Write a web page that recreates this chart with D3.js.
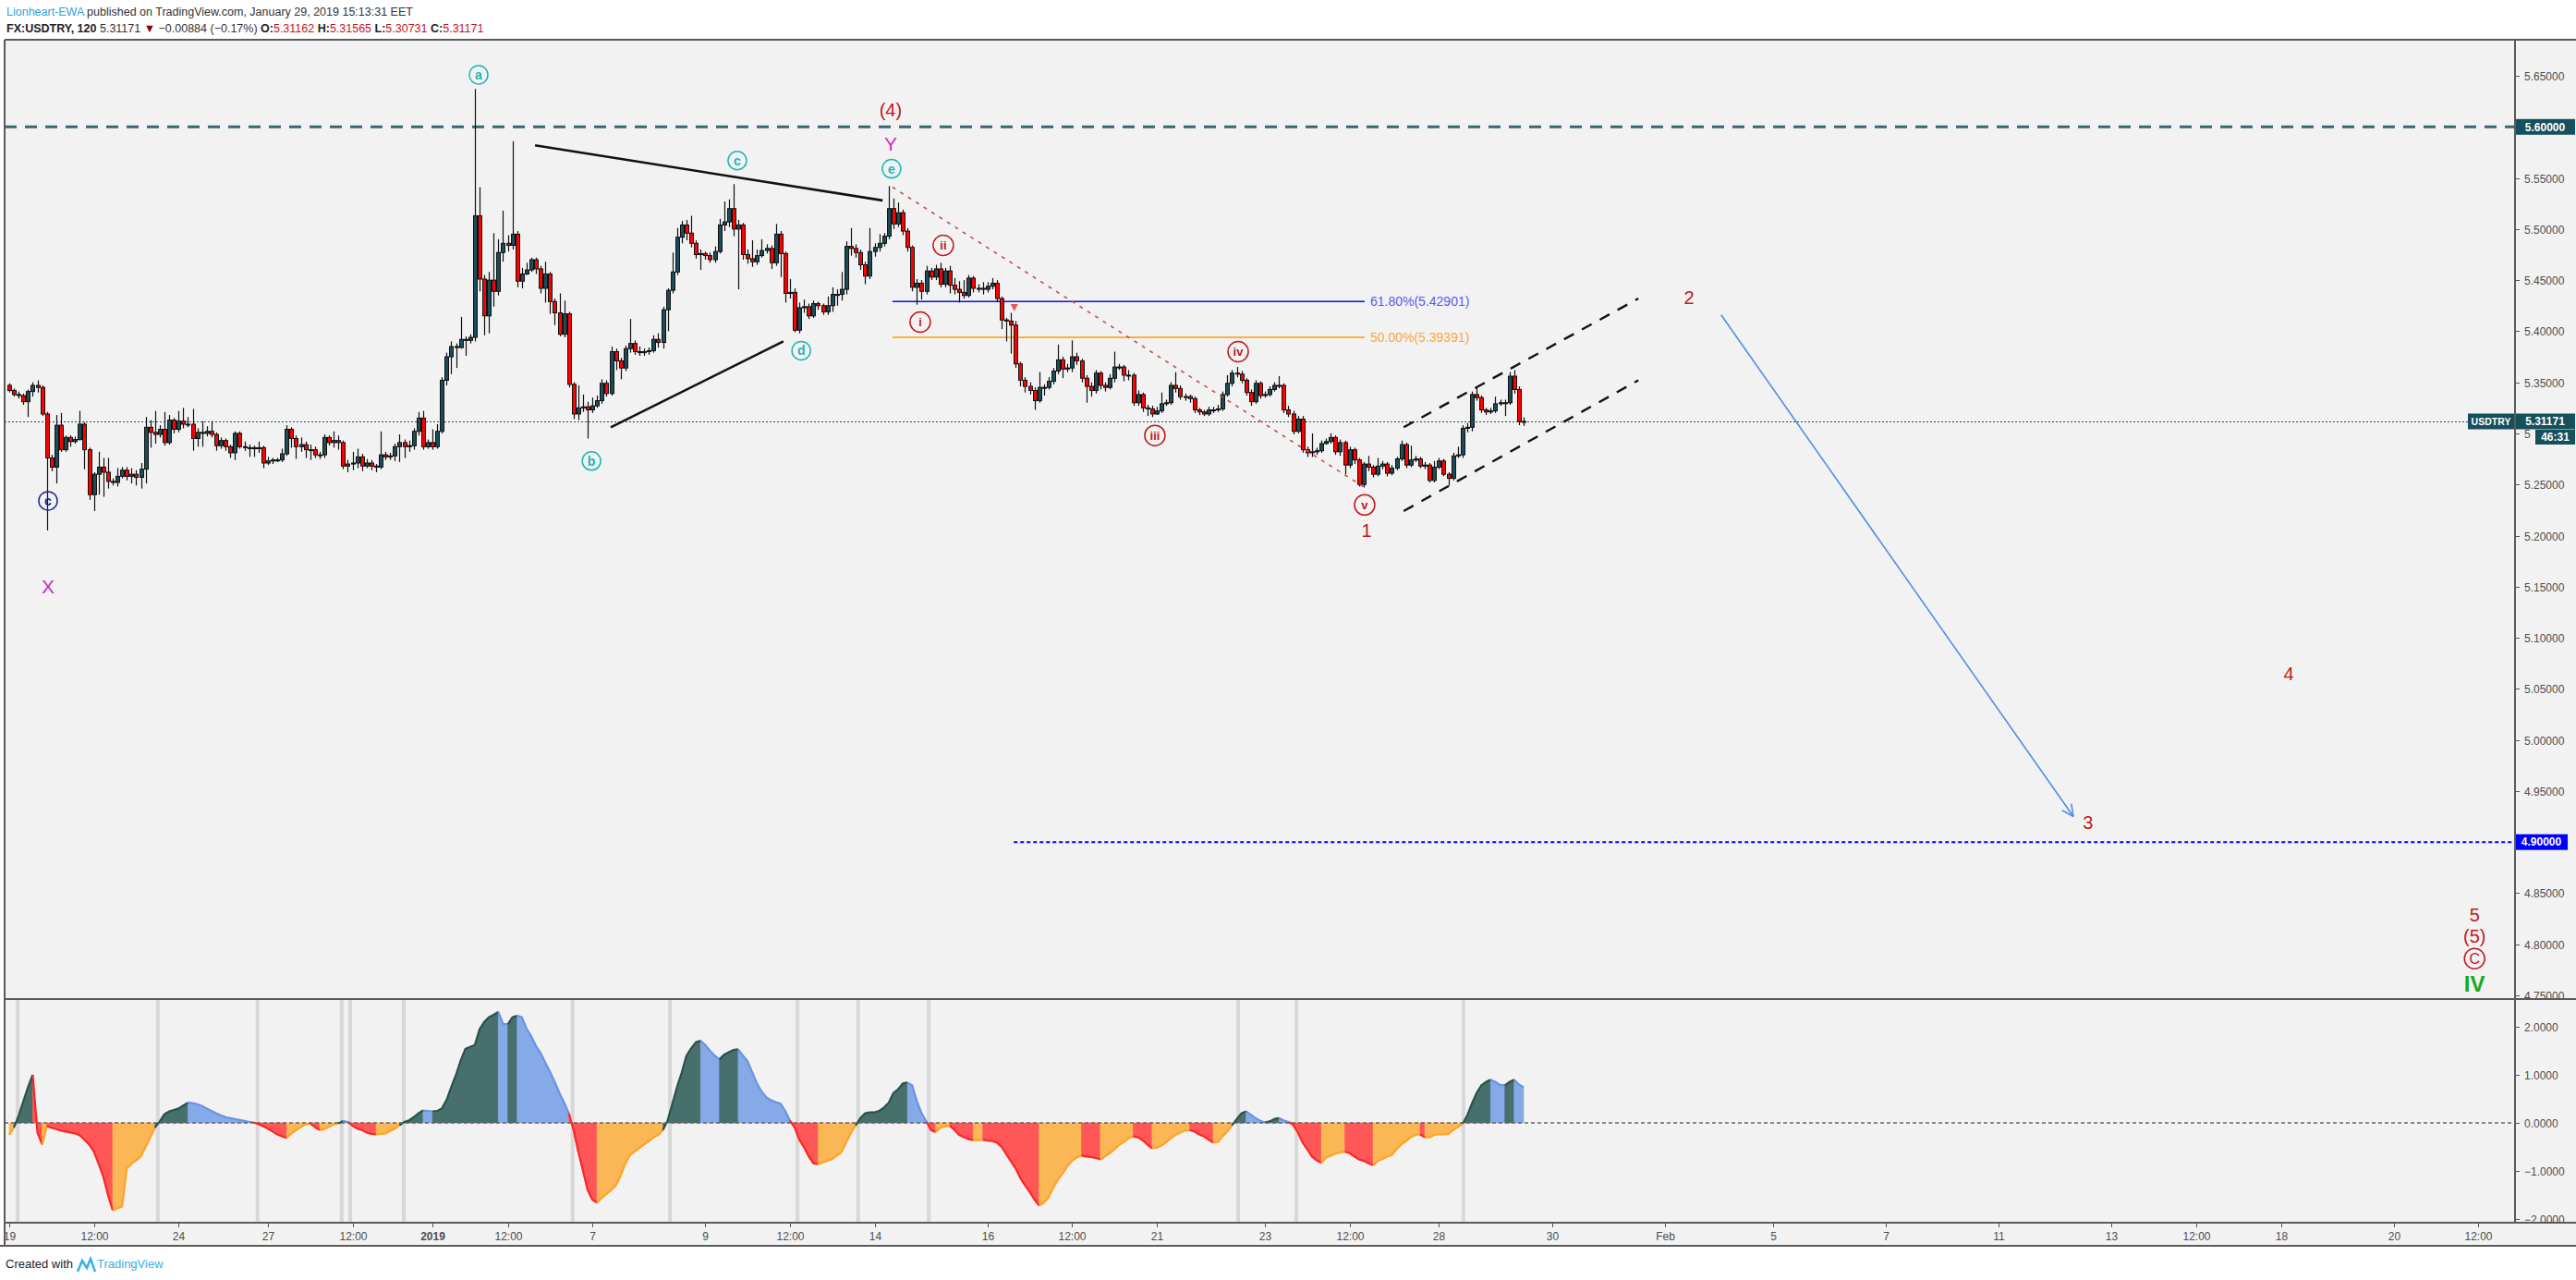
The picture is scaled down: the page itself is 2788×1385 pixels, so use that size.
<!DOCTYPE html>
<html>
<head>
<meta charset="utf-8">
<script src="https://cdn.jsdelivr.net/npm/d3@7"></script>
<style>
  body { margin: 0; background: #fff; }
  svg text { font-family: "Liberation Sans", Arial, sans-serif; }
</style>
</head>
<body>
<svg id="chart" width="2788" height="1385"></svg>
<script>
// FX:USDTRY 2h candles, Dec 19 2018 .. Jan 29 2019 (open of first bar, then closes/highs/lows per bar)
var firstOpen = 5.347;
var closes = [
  5.342,5.338,5.337,5.331,5.341,5.347,5.345,5.319,5.276,5.267,
  5.308,5.284,5.296,5.292,5.294,5.309,5.284,5.240,5.260,5.267,
  5.262,5.253,5.252,5.258,5.264,5.258,5.260,5.257,5.265,5.306,
  5.301,5.299,5.304,5.291,5.313,5.304,5.312,5.309,5.309,5.295,
  5.301,5.300,5.302,5.299,5.288,5.293,5.287,5.281,5.300,5.287,
  5.286,5.286,5.285,5.286,5.271,5.273,5.274,5.274,5.280,5.304,
  5.295,5.287,5.289,5.284,5.284,5.279,5.279,5.296,5.291,5.293,
  5.291,5.268,5.270,5.271,5.277,5.268,5.271,5.268,5.267,5.279,
  5.277,5.278,5.287,5.291,5.287,5.288,5.302,5.315,5.287,5.291,
  5.287,5.302,5.352,5.375,5.385,5.384,5.392,5.391,5.394,5.513,
  5.451,5.415,5.450,5.439,5.477,5.486,5.484,5.495,5.449,5.456,
  5.460,5.470,5.461,5.442,5.456,5.429,5.418,5.397,5.417,5.348,
  5.319,5.325,5.326,5.323,5.327,5.332,5.349,5.339,5.380,5.371,
  5.364,5.383,5.388,5.380,5.379,5.380,5.381,5.392,5.389,5.421,
  5.440,5.458,5.492,5.504,5.496,5.486,5.475,5.476,5.474,5.470,
  5.478,5.504,5.507,5.520,5.500,5.504,5.475,5.471,5.468,5.474,
  5.479,5.481,5.467,5.495,5.476,5.437,5.438,5.401,5.423,5.424,
  5.415,5.427,5.425,5.419,5.425,5.436,5.436,5.441,5.483,5.481,
  5.477,5.465,5.454,5.478,5.482,5.486,5.493,5.520,5.505,5.516,
  5.498,5.482,5.443,5.447,5.439,5.459,5.453,5.461,5.446,5.459,
  5.445,5.441,5.438,5.435,5.452,5.442,5.442,5.441,5.444,5.447,
  5.432,5.411,5.410,5.406,5.368,5.352,5.346,5.342,5.332,5.345,
  5.345,5.351,5.361,5.372,5.363,5.364,5.375,5.371,5.354,5.346,
  5.342,5.359,5.347,5.345,5.354,5.365,5.365,5.357,5.357,5.330,
  5.338,5.325,5.324,5.319,5.322,5.329,5.330,5.347,5.344,5.336,
  5.336,5.334,5.323,5.321,5.319,5.323,5.323,5.324,5.338,5.349,
  5.359,5.358,5.352,5.340,5.331,5.349,5.337,5.338,5.343,5.347,
  5.347,5.323,5.319,5.302,5.314,5.284,5.281,5.282,5.283,5.290,
  5.292,5.296,5.282,5.291,5.269,5.284,5.274,5.250,5.270,5.267,
  5.260,5.268,5.270,5.261,5.266,5.275,5.289,5.269,5.274,5.275,
  5.268,5.269,5.254,5.267,5.273,5.260,5.256,5.278,5.279,5.305,
  5.306,5.338,5.335,5.323,5.321,5.322,5.329,5.330,5.330,5.356,
  5.343,5.3116,5.31171
];
var highs = [
  5.349,5.344,5.341,5.339,5.343,5.350,5.352,5.347,5.321,5.279,
  5.318,5.320,5.298,5.298,5.297,5.322,5.311,5.286,5.262,5.282,
  5.276,5.276,5.256,5.266,5.267,5.267,5.266,5.264,5.271,5.316,
  5.313,5.322,5.308,5.321,5.318,5.315,5.322,5.325,5.316,5.324,
  5.305,5.312,5.307,5.312,5.301,5.296,5.295,5.289,5.302,5.302,
  5.292,5.289,5.288,5.292,5.288,5.277,5.276,5.276,5.285,5.308,
  5.306,5.298,5.296,5.292,5.289,5.287,5.282,5.299,5.298,5.302,
  5.298,5.293,5.274,5.282,5.285,5.280,5.275,5.274,5.270,5.302,
  5.282,5.281,5.290,5.299,5.294,5.293,5.305,5.321,5.322,5.294,
  5.304,5.309,5.355,5.379,5.390,5.388,5.414,5.395,5.397,5.637,
  5.541,5.455,5.458,5.496,5.490,5.518,5.494,5.586,5.498,5.462,
  5.467,5.472,5.472,5.464,5.468,5.458,5.432,5.437,5.430,5.419,
  5.350,5.347,5.338,5.331,5.335,5.337,5.353,5.352,5.385,5.383,
  5.374,5.386,5.412,5.391,5.385,5.383,5.384,5.396,5.398,5.424,
  5.442,5.477,5.501,5.508,5.509,5.513,5.489,5.480,5.478,5.477,
  5.483,5.510,5.527,5.529,5.544,5.509,5.506,5.480,5.489,5.480,
  5.490,5.485,5.484,5.505,5.498,5.478,5.451,5.442,5.428,5.431,
  5.427,5.430,5.429,5.427,5.434,5.443,5.441,5.458,5.488,5.501,
  5.485,5.480,5.468,5.501,5.486,5.495,5.496,5.542,5.530,5.526,
  5.519,5.501,5.484,5.451,5.450,5.464,5.462,5.465,5.467,5.462,
  5.464,5.452,5.449,5.450,5.455,5.454,5.446,5.448,5.448,5.452,
  5.450,5.434,5.413,5.418,5.410,5.370,5.355,5.350,5.345,5.360,
  5.348,5.355,5.364,5.387,5.375,5.368,5.391,5.379,5.373,5.357,
  5.350,5.362,5.361,5.350,5.358,5.380,5.368,5.367,5.362,5.359,
  5.342,5.340,5.328,5.327,5.326,5.340,5.333,5.350,5.360,5.347,
  5.339,5.338,5.336,5.325,5.323,5.326,5.326,5.328,5.341,5.357,
  5.362,5.365,5.361,5.354,5.343,5.352,5.351,5.341,5.346,5.350,
  5.356,5.349,5.327,5.322,5.317,5.317,5.287,5.300,5.286,5.293,
  5.295,5.300,5.298,5.294,5.293,5.287,5.286,5.276,5.272,5.278,
  5.269,5.276,5.273,5.272,5.269,5.277,5.293,5.291,5.288,5.278,
  5.277,5.272,5.271,5.273,5.276,5.275,5.262,5.281,5.287,5.308,
  5.310,5.341,5.345,5.337,5.325,5.325,5.336,5.333,5.333,5.360,
  5.362,5.346,5.31565
];
var lows = [
  5.340,5.336,5.334,5.328,5.316,5.336,5.340,5.317,5.205,5.263,
  5.251,5.282,5.282,5.287,5.290,5.293,5.265,5.235,5.224,5.240,
  5.238,5.246,5.249,5.248,5.256,5.254,5.251,5.249,5.246,5.251,
  5.286,5.290,5.296,5.288,5.289,5.300,5.301,5.305,5.306,5.283,
  5.287,5.287,5.297,5.296,5.283,5.285,5.283,5.276,5.274,5.285,
  5.283,5.277,5.277,5.281,5.266,5.269,5.270,5.272,5.272,5.278,
  5.286,5.275,5.282,5.276,5.274,5.276,5.275,5.276,5.288,5.286,
  5.284,5.265,5.262,5.264,5.266,5.263,5.266,5.264,5.262,5.265,
  5.274,5.274,5.273,5.272,5.276,5.282,5.284,5.298,5.284,5.285,
  5.284,5.285,5.300,5.347,5.358,5.364,5.383,5.376,5.388,5.390,
  5.439,5.396,5.398,5.424,5.435,5.468,5.478,5.480,5.443,5.442,
  5.455,5.458,5.456,5.437,5.428,5.417,5.406,5.395,5.394,5.345,
  5.314,5.313,5.321,5.295,5.320,5.325,5.329,5.336,5.337,5.362,
  5.353,5.361,5.379,5.377,5.376,5.376,5.377,5.379,5.384,5.383,
  5.400,5.437,5.455,5.486,5.489,5.482,5.471,5.460,5.470,5.467,
  5.467,5.476,5.498,5.502,5.493,5.441,5.470,5.466,5.463,5.465,
  5.472,5.476,5.461,5.464,5.453,5.428,5.432,5.399,5.398,5.418,
  5.412,5.413,5.421,5.416,5.416,5.419,5.425,5.430,5.436,5.474,
  5.472,5.460,5.446,5.451,5.473,5.478,5.483,5.490,5.500,5.502,
  5.494,5.478,5.439,5.426,5.431,5.436,5.450,5.450,5.443,5.443,
  5.437,5.436,5.428,5.432,5.433,5.438,5.438,5.436,5.438,5.441,
  5.429,5.402,5.390,5.378,5.364,5.346,5.340,5.338,5.323,5.330,
  5.337,5.343,5.348,5.358,5.354,5.360,5.360,5.367,5.350,5.330,
  5.336,5.339,5.343,5.341,5.343,5.350,5.362,5.351,5.352,5.327,
  5.327,5.321,5.317,5.316,5.318,5.320,5.327,5.328,5.340,5.333,
  5.332,5.330,5.320,5.318,5.317,5.317,5.320,5.321,5.322,5.336,
  5.346,5.355,5.349,5.337,5.327,5.329,5.334,5.335,5.336,5.341,
  5.344,5.320,5.316,5.299,5.300,5.281,5.277,5.277,5.279,5.281,
  5.289,5.290,5.279,5.278,5.260,5.266,5.270,5.248,5.247,5.263,
  5.257,5.258,5.265,5.258,5.259,5.264,5.273,5.266,5.267,5.272,
  5.266,5.265,5.252,5.252,5.265,5.258,5.249,5.254,5.276,5.276,
  5.301,5.302,5.332,5.320,5.318,5.319,5.320,5.327,5.317,5.328,
  5.339,5.308,5.30731
];

// oscillator pane, one value per candle
var osc = [
  -0.25,-0.10,0.15,0.45,0.75,1.00,-0.20,-0.45,-0.07,-0.10,
  -0.13,-0.16,-0.18,-0.20,-0.22,-0.26,-0.35,-0.45,-0.60,-0.85,
  -1.12,-1.50,-1.82,-1.78,-1.74,-0.95,-0.85,-0.78,-0.70,-0.50,
  -0.30,-0.10,0.03,0.18,0.24,0.27,0.30,0.36,0.42,0.41,
  0.39,0.35,0.30,0.25,0.20,0.16,0.12,0.10,0.08,0.06,
  0.04,0.02,0.01,-0.03,-0.07,-0.12,-0.18,-0.24,-0.28,-0.31,
  -0.22,-0.15,-0.09,-0.03,-0.01,-0.09,-0.15,-0.13,-0.08,-0.03,
  -0.01,0.04,0.02,-0.06,-0.12,-0.15,-0.20,-0.23,-0.24,-0.23,
  -0.22,-0.17,-0.12,-0.05,0.02,0.05,0.12,0.20,0.26,0.25,
  0.24,0.25,0.30,0.48,0.75,1.00,1.30,1.54,1.58,1.62,
  1.95,2.10,2.20,2.25,2.31,2.06,2.05,2.20,2.23,2.20,
  1.96,1.80,1.60,1.45,1.25,1.06,0.85,0.62,0.42,0.20,
  -0.15,-0.60,-1.00,-1.40,-1.60,-1.66,-1.56,-1.48,-1.40,-1.30,
  -1.10,-0.85,-0.67,-0.60,-0.52,-0.45,-0.38,-0.30,-0.25,-0.15,
  0.05,0.40,0.75,1.05,1.40,1.55,1.68,1.71,1.62,1.50,
  1.40,1.32,1.42,1.47,1.52,1.53,1.40,1.28,1.05,0.82,
  0.65,0.53,0.47,0.43,0.40,0.25,0.05,-0.10,-0.35,-0.51,
  -0.70,-0.84,-0.86,-0.82,-0.79,-0.75,-0.68,-0.60,-0.40,-0.20,
  -0.05,0.10,0.20,0.22,0.22,0.25,0.32,0.42,0.62,0.70,
  0.82,0.84,0.78,0.45,0.20,0.03,-0.15,-0.19,-0.10,-0.07,
  -0.06,-0.15,-0.25,-0.30,-0.34,-0.36,-0.36,-0.35,-0.37,-0.38,
  -0.41,-0.50,-0.65,-0.80,-0.95,-1.15,-1.30,-1.44,-1.60,-1.72,
  -1.66,-1.55,-1.35,-1.18,-1.05,-0.90,-0.79,-0.72,-0.68,-0.70,
  -0.71,-0.73,-0.76,-0.70,-0.63,-0.55,-0.46,-0.40,-0.32,-0.28,
  -0.30,-0.36,-0.45,-0.53,-0.52,-0.47,-0.40,-0.32,-0.25,-0.20,
  -0.16,-0.15,-0.18,-0.24,-0.28,-0.35,-0.41,-0.40,-0.28,-0.18,
  -0.05,0.08,0.20,0.24,0.17,0.10,0.04,0.01,0.03,0.08,
  0.10,0.05,0.02,-0.04,-0.20,-0.41,-0.55,-0.70,-0.78,-0.83,
  -0.72,-0.68,-0.64,-0.62,-0.60,-0.63,-0.70,-0.76,-0.79,-0.84,
  -0.88,-0.79,-0.75,-0.70,-0.67,-0.55,-0.45,-0.38,-0.30,-0.25,
  -0.24,-0.30,-0.30,-0.25,-0.24,-0.24,-0.23,-0.15,-0.09,-0.02,
  0.15,0.40,0.62,0.78,0.85,0.90,0.85,0.79,0.78,0.85,
  0.90,0.80,0.74
];
var oscCrossBars = [1.8, 31.6, 52.8, 70.7, 72.5, 83.9, 119.8, 140.5, 167.6, 180.5, 195.5, 261.3, 273.7, 309.2];

var priceTicks = [5.65, 5.60, 5.55, 5.50, 5.45, 5.40, 5.35, 5.30, 5.25, 5.20, 5.15, 5.10, 5.05, 5.00, 4.95, 4.90, 4.85, 4.80, 4.75];
var oscTicks = [2, 1, 0, -1, -2];
var timeTickBars = [0, 18, 36, 55, 73, 90, 106, 124, 148, 166, 184, 208, 226, 244, 267, 285, 304, 328, 352, 375, 399, 423, 447, 465, 483, 507, 525];
var timeTickLabels = ['19', '12:00', '24', '27', '12:00', '2019', '12:00', '7', '9', '12:00', '14', '16', '12:00', '21', '23', '12:00', '28', '30', 'Feb', '5', '7', '11', '13', '12:00', '18', '20', '12:00'];

var lastPrice = 5.31171;
var countdown = '46:31';
var resistanceLevel = 5.60;
var targetLevel = 4.90;
var targetFromBar = 213.6;
var fibPrices = [5.42901, 5.39391];
var fibRatios = ['61.80%', '50.00%'];
var fibBars = [187.8, 288.2];

var waveLabels = [
    {bar: 99.8, price: 5.651, text: 'a', kind: 'minute'},
    {bar: 123.8, price: 5.273, text: 'b', kind: 'minute'},
    {bar: 154.8, price: 5.567, text: 'c', kind: 'minute'},
    {bar: 168.4, price: 5.381, text: 'd', kind: 'minute'},
    {bar: 187.6, price: 5.559, text: 'e', kind: 'minute'},
    {bar: 187.4, price: 5.584, text: 'Y', kind: 'complex'},
    {bar: 187.4, price: 5.617, text: '(4)', kind: 'intermediate'},
    {bar: 8.25, price: 5.234, text: 'c', kind: 'minor-circle'},
    {bar: 8.25, price: 5.150, text: 'X', kind: 'complex'},
    {bar: 193.7, price: 5.409, text: 'i', kind: 'minuette'},
    {bar: 198.6, price: 5.484, text: 'ii', kind: 'minuette'},
    {bar: 243.6, price: 5.298, text: 'iii', kind: 'minuette'},
    {bar: 261.3, price: 5.380, text: 'iv', kind: 'minuette'},
    {bar: 288.2, price: 5.230, text: 'v', kind: 'minuette'},
    {bar: 288.6, price: 5.205, text: '1', kind: 'minor'},
    {bar: 357.2, price: 5.433, text: '2', kind: 'minor'},
    {bar: 442.0, price: 4.919, text: '3', kind: 'minor'},
    {bar: 484.7, price: 5.065, text: '4', kind: 'minor'},
    {bar: 524.2, price: 4.829, text: '5', kind: 'minor'},
    {bar: 524.2, price: 4.808, text: '(5)', kind: 'intermediate'},
    {bar: 524.2, price: 4.786, text: 'C', kind: 'primary'},
    {bar: 524.2, price: 4.761, text: 'IV', kind: 'cycle'},
];

var trendLines = [
    {from: [111.8, 5.582], to: [185.7, 5.528], kind: 'triangle'},
    {from: [127.9, 5.306], to: [164.6, 5.390], kind: 'triangle'},
    {from: [187.8, 5.541], to: [288.2, 5.247], kind: 'trend'},
    {from: [296.5, 5.306], to: [346.4, 5.432], kind: 'channel'},
    {from: [296.5, 5.224], to: [346.4, 5.352], kind: 'channel'},
    {from: [364.0, 5.416], to: [438.9, 4.925], kind: 'arrow'},
];
var signalMark = {bar: 213.7, price: 5.423};

var labelStyles = {
    'minute': {color: '#1db5b8', circle: 10, size: 14, weight: 'bold'},
    'minor-circle': {color: '#1c2a8c', circle: 10, size: 14, weight: 'bold'},
    'minuette': {color: '#c0191e', circle: 11, size: 13, weight: 'bold'},
    'primary': {color: '#c0191e', circle: 11, size: 16, weight: 'normal'},
    'complex': {color: '#c22fc4', size: 21, weight: 'normal'},
    'intermediate': {color: '#c0191e', size: 20, weight: 'normal'},
    'minor': {color: '#c0191e', size: 20, weight: 'normal'},
    'cycle': {color: '#18a818', size: 24, weight: 'bold'},
};
var lineStyles = {
    'triangle': {stroke: '#111', width: 2.6, dash: null},
    'trend': {stroke: '#c0504d', width: 1.6, dash: '4,6'},
    'channel': {stroke: '#111', width: 2.4, dash: '12,10'},
    'arrow': {stroke: '#4f8fe6', width: 1.6, dash: null},
};
var oscColors = {
    up: {fill: '#476f6b', line: '#2b524e'},
    fade: {fill: '#86a9e8', line: '#6a93e2'},
    down: {fill: '#ff5757', line: '#ff2525'},
    recover: {fill: '#fbb655', line: '#ffa425'},
};

class Chart {

    constructor() {
        this.svg = d3.select('#chart');
        this.frame = {left: 5, right: 2722, top: 43, bottom: 1081, oscBottom: 1323, axisBottom: 1348, width: 2788};
        this.x = d3.scaleLinear().domain([0, 322]).range([10, 1649]);
        this.y = d3.scaleLinear().domain([5.65, 4.75]).range([82, 1077]);
        this.yo = d3.scaleLinear().domain([2, -2]).range([1111, 1319]);
        this.fmt = d3.format('.5f');
        this.candles = closes.map((c, i) => ({
            i: i,
            open: i ? closes[i - 1] : firstOpen,
            close: c,
            high: highs[i],
            low: lows[i],
        }));
    }

    draw() {
        this.drawBackground();
        this.drawLevels();
        this.drawCandles();
        this.drawDrawings();
        this.drawLabels();
        this.drawOscillator();
        this.drawAxes();
        this.drawFrame();
        this.drawHeader();
    }

    drawBackground() {
        var f = this.frame;
        this.svg.append('rect').attr('width', 2788).attr('height', 1385).attr('fill', '#fff');
        this.svg.append('rect')
            .attr('x', f.left).attr('y', f.top)
            .attr('width', f.width - f.left).attr('height', f.axisBottom - f.top)
            .attr('fill', '#f2f2f2');
        var defs = this.svg.append('defs');
        defs.append('clipPath').attr('id', 'main-clip').append('rect')
            .attr('x', f.left).attr('y', f.top).attr('width', f.right - f.left).attr('height', f.bottom - f.top);
        defs.append('clipPath').attr('id', 'osc-clip').append('rect')
            .attr('x', f.left).attr('y', f.bottom + 1).attr('width', f.right - f.left).attr('height', f.oscBottom - f.bottom - 1);
        this.main = this.svg.append('g').attr('clip-path', 'url(#main-clip)');
    }

    drawLevels() {
        var f = this.frame;
        var g = this.main;
        g.append('line')
            .attr('x1', f.left).attr('x2', f.right)
            .attr('y1', this.y(resistanceLevel)).attr('y2', this.y(resistanceLevel))
            .attr('stroke', '#3a6670').attr('stroke-width', 3).attr('stroke-dasharray', '13,9');
        g.append('line')
            .attr('x1', this.x(targetFromBar)).attr('x2', f.right)
            .attr('y1', this.y(targetLevel)).attr('y2', this.y(targetLevel))
            .attr('stroke', '#0000ff').attr('stroke-width', 2).attr('stroke-dasharray', '4,3');
        g.append('line')
            .attr('x1', f.left).attr('x2', 2672)
            .attr('y1', Math.round(this.y(lastPrice)) + 0.5).attr('y2', Math.round(this.y(lastPrice)) + 0.5)
            .attr('stroke', '#1b4d5a').attr('stroke-width', 1).attr('stroke-dasharray', '2,2');

        var fibColors = ['#0a0af0', '#ff9a0a'];
        var fibText = ['#5a5af2', '#ffa63a'];
        fibPrices.forEach((p, k) => {
            g.append('line')
                .attr('x1', this.x(fibBars[0])).attr('x2', this.x(fibBars[1]))
                .attr('y1', this.y(p)).attr('y2', this.y(p))
                .attr('stroke', fibColors[k]).attr('stroke-width', 1.5);
            g.append('text')
                .attr('x', this.x(fibBars[1]) + 6).attr('y', this.y(p))
                .attr('dy', '0.35em')
                .attr('font-size', 14)
                .attr('fill', fibText[k])
                .text(`${fibRatios[k]}(${this.fmt(p)})`);
        });
    }

    drawCandles() {
        var g = this.main.append('g');
        g.selectAll('line.wick')
            .data(this.candles)
            .join('line')
            .attr('class', 'wick')
            .attr('x1', d => Math.round(this.x(d.i)) + 0.5)
            .attr('x2', d => Math.round(this.x(d.i)) + 0.5)
            .attr('y1', d => this.y(Math.max(d.high, d.open, d.close)))
            .attr('y2', d => this.y(Math.min(d.low, d.open, d.close)))
            .attr('stroke', '#111')
            .attr('stroke-width', 1.2);
        g.selectAll('rect.body')
            .data(this.candles)
            .join('rect')
            .attr('class', 'body')
            .attr('x', d => Math.round(this.x(d.i)) - 1.5)
            .attr('width', 4)
            .attr('y', d => this.y(Math.max(d.open, d.close)))
            .attr('height', d => Math.max(1, this.y(Math.min(d.open, d.close)) - this.y(Math.max(d.open, d.close))))
            .attr('fill', d => d.close >= d.open ? '#1b4c58' : '#ff0000')
            .attr('stroke', '#111')
            .attr('stroke-width', 1);
    }

    drawDrawings() {
        var g = this.main.append('g');
        trendLines.forEach(t => {
            var s = lineStyles[t.kind];
            var x1 = this.x(t.from[0]), y1 = this.y(t.from[1]);
            var x2 = this.x(t.to[0]), y2 = this.y(t.to[1]);
            g.append('line')
                .attr('x1', x1).attr('y1', y1).attr('x2', x2).attr('y2', y2)
                .attr('stroke', s.stroke).attr('stroke-width', s.width)
                .attr('stroke-dasharray', s.dash);
            if (t.kind === 'arrow') {
                var a = Math.atan2(y2 - y1, x2 - x1);
                [-0.45, 0.45].forEach(da => {
                    g.append('line')
                        .attr('x1', x2).attr('y1', y2)
                        .attr('x2', x2 - 14 * Math.cos(a + da)).attr('y2', y2 - 14 * Math.sin(a + da))
                        .attr('stroke', s.stroke).attr('stroke-width', s.width);
                });
            }
        });
        var sx = this.x(signalMark.bar), sy = this.y(signalMark.price);
        g.append('path')
            .attr('d', `M${sx - 4},${sy - 4}L${sx + 4},${sy - 4}L${sx},${sy + 4}Z`)
            .attr('fill', '#e25a5a');
    }

    drawLabels() {
        var g = this.main.append('g');
        var items = g.selectAll('g.wave')
            .data(waveLabels)
            .join('g')
            .attr('class', 'wave')
            .attr('transform', d => `translate(${this.x(d.bar)},${this.y(d.price)})`);
        items.filter(d => labelStyles[d.kind].circle)
            .append('circle')
            .attr('r', d => labelStyles[d.kind].circle)
            .attr('fill', 'none')
            .attr('stroke', d => labelStyles[d.kind].color)
            .attr('stroke-width', 1.5);
        items.append('text')
            .attr('text-anchor', 'middle')
            .attr('dy', '0.36em')
            .attr('font-size', d => labelStyles[d.kind].size)
            .attr('font-weight', d => labelStyles[d.kind].weight)
            .attr('fill', d => labelStyles[d.kind].color)
            .text(d => d.text);
    }

    oscColor(v, prev) {
        if (v >= 0) {
            return v >= prev ? 'up' : 'fade';
        }
        return v < prev ? 'down' : 'recover';
    }

    drawOscillator() {
        var g = this.svg.append('g').attr('clip-path', 'url(#osc-clip)');
        var f = this.frame;
        g.selectAll('rect.cross')
            .data(oscCrossBars)
            .join('rect')
            .attr('class', 'cross')
            .attr('x', d => this.x(d) - 2)
            .attr('width', 4)
            .attr('y', f.bottom + 1)
            .attr('height', f.oscBottom - f.bottom - 1)
            .attr('fill', '#d8d8d8');

        var pts = osc.map((v, i) => ({i: i, v: v, c: this.oscColor(v, i ? osc[i - 1] : v)}));
        var runs = [];
        pts.forEach(p => {
            var last = runs[runs.length - 1];
            if (last && last.c === p.c) {
                last.pts.push(p);
            } else {
                runs.push({c: p.c, pts: p.i ? [pts[p.i - 1], p] : [p]});
            }
        });
        var area = d3.area()
            .x(d => this.x(d.i))
            .y0(this.yo(0))
            .y1(d => this.yo(d.v));
        var line = d3.line()
            .x(d => this.x(d.i))
            .y(d => this.yo(d.v));
        g.selectAll('path.fill')
            .data(runs)
            .join('path')
            .attr('class', 'fill')
            .attr('d', d => area(d.pts))
            .attr('fill', d => oscColors[d.c].fill)
            .attr('stroke', d => oscColors[d.c].fill)
            .attr('stroke-width', 0.6);
        g.selectAll('path.edge')
            .data(runs)
            .join('path')
            .attr('class', 'edge')
            .attr('d', d => line(d.pts))
            .attr('fill', 'none')
            .attr('stroke', d => oscColors[d.c].line)
            .attr('stroke-width', 2.2);
        g.append('line')
            .attr('x1', f.left).attr('x2', f.right)
            .attr('y1', this.yo(0)).attr('y2', this.yo(0))
            .attr('stroke', '#666').attr('stroke-width', 1.5).attr('stroke-dasharray', '4,3');
    }

    drawAxes() {
        var f = this.frame;
        var axisG = this.svg.append('g');
        var tickText = (sel) => sel.attr('font-size', 12).attr('fill', '#4d4d4d');
        var yl = this.y(lastPrice);

        priceTicks.forEach(p => {
            var yy = Math.round(this.y(p)) + 0.5;
            axisG.append('line').attr('x1', f.right).attr('x2', f.right + 5)
                .attr('y1', yy).attr('y2', yy).attr('stroke', '#555');
            // the tick under the last-price tags is hidden, as in the terminal
            if (Math.abs(yy - yl) < 26) {
                return;
            }
            axisG.append('text').attr('x', f.right + 10).attr('y', yy).attr('dy', '0.35em')
                .call(tickText).text(this.fmt(p));
        });
        oscTicks.forEach(v => {
            var yy = Math.round(this.yo(v)) + 0.5;
            axisG.append('line').attr('x1', f.right).attr('x2', f.right + 5)
                .attr('y1', yy).attr('y2', yy).attr('stroke', '#555');
            axisG.append('text').attr('x', f.right + 10).attr('y', yy).attr('dy', '0.35em')
                .call(tickText).text(d3.format('.4f')(v));
        });
        timeTickBars.forEach((b, k) => {
            var xx = Math.round(this.x(b)) + 0.5;
            axisG.append('line').attr('x1', xx).attr('x2', xx)
                .attr('y1', f.oscBottom).attr('y2', f.oscBottom + 5).attr('stroke', '#555');
            axisG.append('text').attr('x', xx).attr('y', f.oscBottom + 19)
                .attr('text-anchor', 'middle')
                .attr('font-weight', timeTickLabels[k] === '2019' ? 'bold' : 'normal')
                .call(tickText).text(timeTickLabels[k]);
        });

        // price tags on the axis
        var tag = (x0, x1, cy, h, bg, text, size) => {
            axisG.append('rect').attr('x', x0).attr('y', cy - h / 2).attr('width', x1 - x0).attr('height', h).attr('fill', bg);
            axisG.append('text').attr('x', (x0 + x1) / 2).attr('y', cy).attr('dy', '0.36em')
                .attr('text-anchor', 'middle')
                .attr('font-size', size).attr('font-weight', 'bold').attr('fill', '#fff').text(text);
        };
        tag(f.right, 2787, this.y(resistanceLevel), 17, '#16505c', this.fmt(resistanceLevel), 12);
        tag(f.right, 2779, this.y(targetLevel), 17, '#0000ff', this.fmt(targetLevel), 12);
        tag(2671, f.right - 1, yl, 17, '#16505c', 'USDTRY', 10.5);
        tag(f.right, 2787, yl, 17, '#16505c', this.fmt(lastPrice), 12);
        tag(2744, 2787, yl + 17, 16, '#16505c', countdown, 12);
        // the covered 5.30000 tick shows only its first digit below the tag
        axisG.append('text').attr('x', f.right + 10).attr('y', Math.round(this.y(5.30)) + 0.5).attr('dy', '0.35em')
            .call(tickText).text('5');
    }

    drawFrame() {
        var f = this.frame;
        var g = this.svg.append('g').attr('stroke', '#5a5a5a').attr('stroke-width', 2);
        g.append('line').attr('x1', f.left).attr('x2', f.width).attr('y1', f.top).attr('y2', f.top);
        g.append('line').attr('x1', f.left).attr('x2', f.left).attr('y1', f.top).attr('y2', f.axisBottom);
        g.append('line').attr('x1', f.right).attr('x2', f.right).attr('y1', f.top).attr('y2', f.oscBottom);
        g.append('line').attr('x1', f.left).attr('x2', f.width).attr('y1', f.bottom).attr('y2', f.bottom);
        g.append('line').attr('x1', f.left).attr('x2', f.width).attr('y1', f.oscBottom).attr('y2', f.oscBottom);
        g.append('line').attr('x1', 0).attr('x2', f.width).attr('y1', f.axisBottom).attr('y2', f.axisBottom);
    }

    drawHeader() {
        var t1 = this.svg.append('text').attr('x', 7).attr('y', 17).attr('font-size', 12.5);
        t1.append('tspan').attr('fill', '#2ea3dd').text('Lionheart-EWA');
        t1.append('tspan').attr('fill', '#333').text(' published on TradingView.com, January 29, 2019 15:13:31 EET');

        var t2 = this.svg.append('text').attr('x', 7).attr('y', 35).attr('font-size', 12.5).attr('fill', '#333');
        t2.append('tspan').attr('font-weight', 'bold').attr('fill', '#222').text('FX:USDTRY, 120');
        t2.append('tspan').text(' ' + this.fmt(lastPrice) + ' ');
        t2.append('tspan').attr('fill', '#8b0000').text('\u25BC');
        t2.append('tspan').text(' \u22120.00884 (\u22120.17%) ');
        var ohlc = [['O:', '5.31162'], ['H:', '5.31565'], ['L:', '5.30731'], ['C:', '5.31171']];
        ohlc.forEach((o, k) => {
            t2.append('tspan').attr('font-weight', 'bold').attr('fill', '#222').text((k ? ' ' : '') + o[0]);
            t2.append('tspan').attr('fill', '#c8141b').text(o[1]);
        });

        var foot = this.svg.append('g');
        foot.append('text').attr('x', 6).attr('y', 1372).attr('font-size', 13).attr('fill', '#222').text('Created with');
        foot.append('path')
            .attr('d', 'M84,1376 L89,1364 L94,1372 L98,1362 L103,1376')
            .attr('fill', 'none').attr('stroke', '#3ab0e2').attr('stroke-width', 2.5);
        foot.append('text').attr('x', 105).attr('y', 1372).attr('font-size', 13).attr('fill', '#3ab0e2').text('TradingView');
    }
}

var chart = new Chart();
chart.draw();
</script>
</body>
</html>
